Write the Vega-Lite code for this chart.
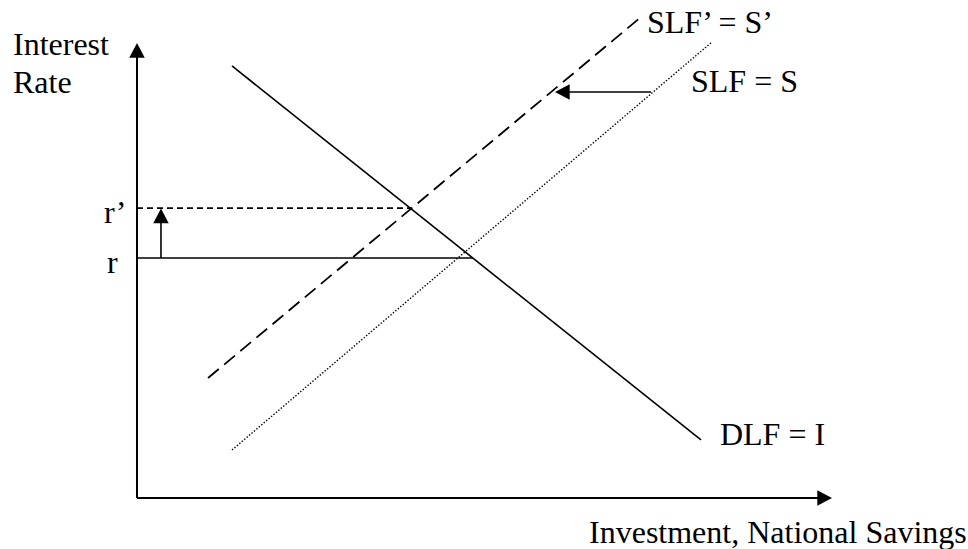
{
  "$schema": "https://vega.github.io/schema/vega-lite/v6.json",
  "width": 968,
  "height": 549,
  "autosize": {"type": "fit", "contains": "padding"},
  "padding": 0,
  "background": "white",
  "config": {"view": {"stroke": null}},
  "datasets": {
    "segments": [
      {"name": "y-axis", "style": "axis", "x": 0, "y": 0, "x2": 0, "y2": 99},
      {"name": "x-axis", "style": "axis", "x": 0, "y": 0, "x2": 99, "y2": 0},
      {"name": "DLF = I", "style": "solid", "x": 13.67, "y": 94.95, "x2": 81.15, "y2": 12.75},
      {"name": "r", "style": "solid", "x": 0, "y": 52.75, "x2": 48.31, "y2": 52.75},
      {"name": "rise", "style": "solid", "x": 3.45, "y": 52.75, "x2": 3.45, "y2": 61},
      {"name": "shift", "style": "solid", "x": 73.96, "y": 89.23, "x2": 62, "y2": 89.23},
      {"name": "SLF’ = S’", "style": "long dash", "x": 10.22, "y": 26.37, "x2": 72.52, "y2": 105.71},
      {"name": "r’", "style": "short dash", "x": 0, "y": 63.7, "x2": 39.5, "y2": 63.7},
      {"name": "SLF = S", "style": "dotted", "x": 13.67, "y": 10.55, "x2": 82.73, "y2": 100.22}
    ],
    "heads": [
      {"dir": "up", "x": 0, "y": 100},
      {"dir": "right", "x": 100, "y": 0},
      {"dir": "up", "x": 3.45, "y": 63.6},
      {"dir": "left", "x": 60.14, "y": 89.23}
    ],
    "labels": [
      {"label": "Interest", "x": -17.84, "y": 97.36},
      {"label": "Rate", "x": -17.84, "y": 89.01},
      {"label": "r’", "x": -4.75, "y": 60.44},
      {"label": "r", "x": -4.32, "y": 49.45},
      {"label": "SLF’ = S’", "x": 73.38, "y": 102.2},
      {"label": "SLF = S", "x": 79.71, "y": 89.2},
      {"label": "DLF = I", "x": 83.88, "y": 11.65},
      {"label": "Investment, National Savings", "x": 65.04, "y": -9.89}
    ]
  },
  "encoding": {
    "x": {"field": "x", "type": "quantitative", "scale": {"domain": [-19.712, 119.568], "nice": false, "zero": false}, "axis": null},
    "y": {"field": "y", "type": "quantitative", "scale": {"domain": [-11.209, 109.451], "nice": false, "zero": false}, "axis": null}
  },
  "layer": [
    {
      "data": {"name": "segments"},
      "transform": [{"filter": "datum.style === 'axis'"}],
      "mark": {"type": "rule", "color": "black", "strokeWidth": 2},
      "encoding": {"x2": {"field": "x2"}, "y2": {"field": "y2"}}
    },
    {
      "data": {"name": "segments"},
      "transform": [{"filter": "datum.style === 'solid'"}],
      "mark": {"type": "rule", "color": "black", "strokeWidth": 1.6},
      "encoding": {"x2": {"field": "x2"}, "y2": {"field": "y2"}}
    },
    {
      "data": {"name": "segments"},
      "transform": [{"filter": "datum.style === 'long dash'"}],
      "mark": {"type": "rule", "color": "black", "strokeWidth": 1.8, "strokeDash": [14, 7]},
      "encoding": {"x2": {"field": "x2"}, "y2": {"field": "y2"}}
    },
    {
      "data": {"name": "segments"},
      "transform": [{"filter": "datum.style === 'short dash'"}],
      "mark": {"type": "rule", "color": "black", "strokeWidth": 1.6, "strokeDash": [6, 4]},
      "encoding": {"x2": {"field": "x2"}, "y2": {"field": "y2"}}
    },
    {
      "data": {"name": "segments"},
      "transform": [{"filter": "datum.style === 'dotted'"}],
      "mark": {"type": "rule", "color": "black", "strokeWidth": 1.4, "strokeDash": [1.4, 1.8]},
      "encoding": {"x2": {"field": "x2"}, "y2": {"field": "y2"}}
    },
    {
      "data": {"name": "heads"},
      "mark": {"type": "point", "filled": true, "color": "black", "opacity": 1, "size": 240, "strokeWidth": 0},
      "encoding": {
        "shape": {
          "field": "dir",
          "type": "nominal",
          "scale": {
            "domain": ["up", "right", "left"],
            "range": ["M0,0L-1,1.9L1,1.9Z", "M0,0L-1.9,-1L-1.9,1Z", "M0,0L1.9,-1L1.9,1Z"]
          },
          "legend": null
        }
      }
    },
    {
      "data": {"name": "labels"},
      "mark": {"type": "text", "align": "left", "baseline": "alphabetic", "font": "Liberation Serif", "fontSize": 32, "color": "black"},
      "encoding": {"text": {"field": "label"}}
    }
  ]
}
